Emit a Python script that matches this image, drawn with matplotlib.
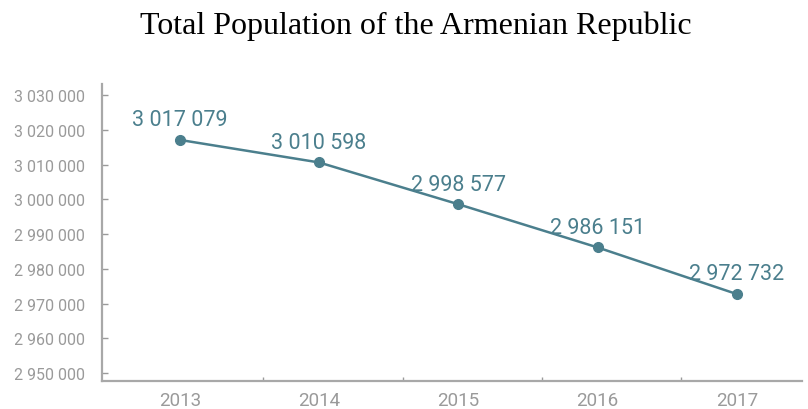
import matplotlib
matplotlib.use("Agg")
import matplotlib.pyplot as plt
import numpy as np

years = ["2013", "2014", "2015", "2016", "2017"]
population = [3017079, 3010598, 2998577, 2986151, 2972732]
value_labels = ["3 017 079", "3 010 598", "2 998 577", "2 986 151", "2 972 732"]
yticks = [2950000, 2960000, 2970000, 2980000, 2990000, 3000000, 3010000, 3020000, 3030000]

teal = "#4b7f8d"
grey = "#9a9a9a"

fig = plt.figure(figsize=(8.08, 4.10), dpi=100)
ax = fig.add_axes([0.126, 0.068, 0.867, 0.725])

x = np.arange(len(years))
ax.plot(x, population, color=teal, lw=1.8, marker="o", ms=7, zorder=3)
for xi, yi, lab in zip(x, population, value_labels):
    ax.annotate(lab, (xi, yi), xytext=(0, 7), textcoords="offset points",
                ha="center", va="bottom", color=teal, fontsize=15.5, family="Roboto")

ax.set_xlim(-0.56, 4.47)
ax.set_ylim(2947700, 3033200)
ax.set_yticks(yticks)
ax.set_yticklabels([f"{v:,}".replace(",", " ") for v in yticks], color=grey,
                   fontsize=11.5, family="Roboto")
ax.set_xticks(x)
ax.set_xticklabels(years, color=grey, fontsize=13.5, family="Roboto")
ax.set_xticks(x[:-1] + 0.6, minor=True)
ax.tick_params(axis="x", which="major", length=0, pad=7)
ax.tick_params(axis="x", which="minor", direction="in", length=3, color=grey, width=1)
ax.tick_params(axis="y", direction="in", length=4, color=grey, width=1, pad=12)

for s in ["top", "right"]:
    ax.spines[s].set_visible(False)
for s in ["left", "bottom"]:
    ax.spines[s].set_color("#a8a8a8")
    ax.spines[s].set_linewidth(1.6)

fig.text(0.515, 0.935, "Total Population of the Armenian Republic", ha="center", va="center",
         fontsize=23, family="Liberation Serif", color="black")

fig.savefig("out.png", dpi=100)
